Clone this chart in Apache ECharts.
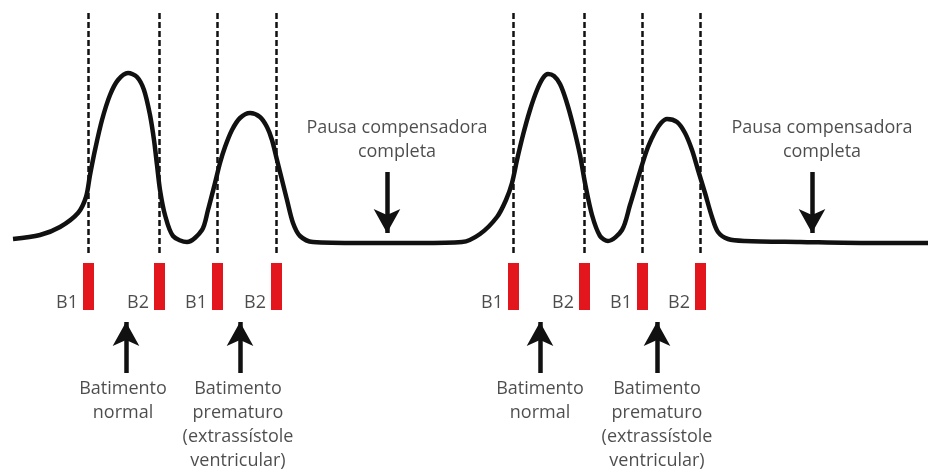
<!DOCTYPE html>
<html>
<head>
<meta charset="utf-8">
<script src="https://cdn.jsdelivr.net/npm/echarts@6/dist/echarts.min.js"></script>
<style>
html,body{margin:0;padding:0;background:#fff;}
#main{width:928px;height:472px;}
</style>
</head>
<body>
<div id="main"></div>
<script>
// waveform, [x, y] in picture units (y grows downward)
var wave = [
    [13,239],[40,235],[60,227],[78,213],[86,197],[90,175],[95,150],[102,120],[110,95],[118,80],
    [128,73],[137,77],[144,90],[150,115],[154,140],[157,165],[160,190],[165,215],[173,236],
    [187,242],[202,230],[208,210],[215,183],[220,163],[225,147],[232,130],[240,118],[250,113],
    [260,117],[267,127],[272,140],[277,160],[282,180],[287,200],[293,223],[300,236],[313,242],
    [360,243],[420,243],[462,242],[480,234],[497,217],[506,200],[512,183],[517,160],[523,135],
    [530,110],[537,90],[543,78],[548,74],[554,76],[560,84],[566,100],[573,125],[580,155],
    [585,183],[592,215],[600,236],[608,241],[622,230],[630,205],[636,185],[642,165],[648,147],
    [655,132],[661,123],[667,119],[677,122],[685,133],[692,150],[698,170],[705,193],[712,217],
    [718,232],[728,239],[745,241],[800,242],[870,243],[928,243]
];
// beat markers (B1 / B2)
var markerX = [88,159,217,276,513,584,642,700];
var markerNames = ['B1','B2','B1','B2','B1','B2','B1','B2'];
var dashTop = 13, dashBottom = 255;
var barTop = 263, barBottom = 310;
var markerLabelY = 303;
// arrows: [x, from y, to y]
var upArrows = [[126,373,322],[240,373,322],[540,373,322],[657,373,322]];
var downArrows = [[387,172,233],[812,172,233]];
// text blocks: [x, y, text]
var notes = [
    [123,401,'Batimento\nnormal'],
    [238,425,'Batimento\nprematuro\n(extrassístole\nventricular)'],
    [540,401,'Batimento\nnormal'],
    [657,425,'Batimento\nprematuro\n(extrassístole\nventricular)'],
    [397,140,'Pausa compensadora\ncompleta'],
    [822,140,'Pausa compensadora\ncompleta']
];

var textColor = '#1f1f1f';
var font = 'Open Sans';

var dashLines = markerX.map(function(x){
    return [{coord:[x,dashTop]},{coord:[x,dashBottom]}];
});
var arrowLines = upArrows.concat(downArrows).map(function(a){
    return [{coord:[a[0],a[1]]},{coord:[a[0],a[2]]}];
});
var bars = markerX.map(function(x){ return [x, barTop, barBottom]; });
var markerLabels = markerX.map(function(x,i){ return {value:[x - 10, markerLabelY], name:markerNames[i]}; });
var noteData = notes.map(function(n){ return {value:[n[0],n[1]], name:n[2]}; });

var myChart = echarts.init(document.getElementById('main'));
var option = {
    animation: false,
    grid: {left:0, right:0, top:0, bottom:0},
    xAxis: {type:'value', min:0, max:928, show:false},
    yAxis: {type:'value', min:0, max:472, inverse:true, show:false},
    series: [
        {
            type:'line',
            data: wave,
            smooth: 0.3,
            showSymbol: false,
            lineStyle: {color:'#111', width:4.5},
            z: 3,
            markLine: {
                silent: true,
                symbol: ['none','none'],
                label: {show:false},
                lineStyle: {color:'#111', width:2.5, type:[6,3]},
                data: dashLines
            }
        },
        {
            type:'line',
            data: [],
            markLine: {
                silent: true,
                symbol: ['none','arrow'],
                symbolSize: [20,24],
                label: {show:false},
                lineStyle: {color:'#111', width:4.5, type:'solid'},
                data: arrowLines
            }
        },
        {
            type:'custom',
            data: bars,
            renderItem: function(params, api){
                var p0 = api.coord([api.value(0), api.value(1)]);
                var p1 = api.coord([api.value(0), api.value(2)]);
                return {
                    type:'rect',
                    shape:{x:p0[0]-5, y:p0[1], width:11, height:p1[1]-p0[1]},
                    style:{fill:'#e3161d'}
                };
            }
        },
        {
            type:'scatter',
            data: markerLabels,
            symbolSize: 0,
            label: {
                show:true, position:'left', distance:0,
                formatter:function(p){ return p.name; },
                color:textColor, fontFamily:font, fontSize:18
            }
        },
        {
            type:'scatter',
            data: noteData,
            symbolSize: 0,
            label: {
                show:true, position:'inside', align:'center',
                formatter:function(p){ return p.name; },
                color:textColor, fontFamily:font, fontSize:18, lineHeight:24
            }
        }
    ]
};
myChart.setOption(option);
</script>
</body>
</html>
